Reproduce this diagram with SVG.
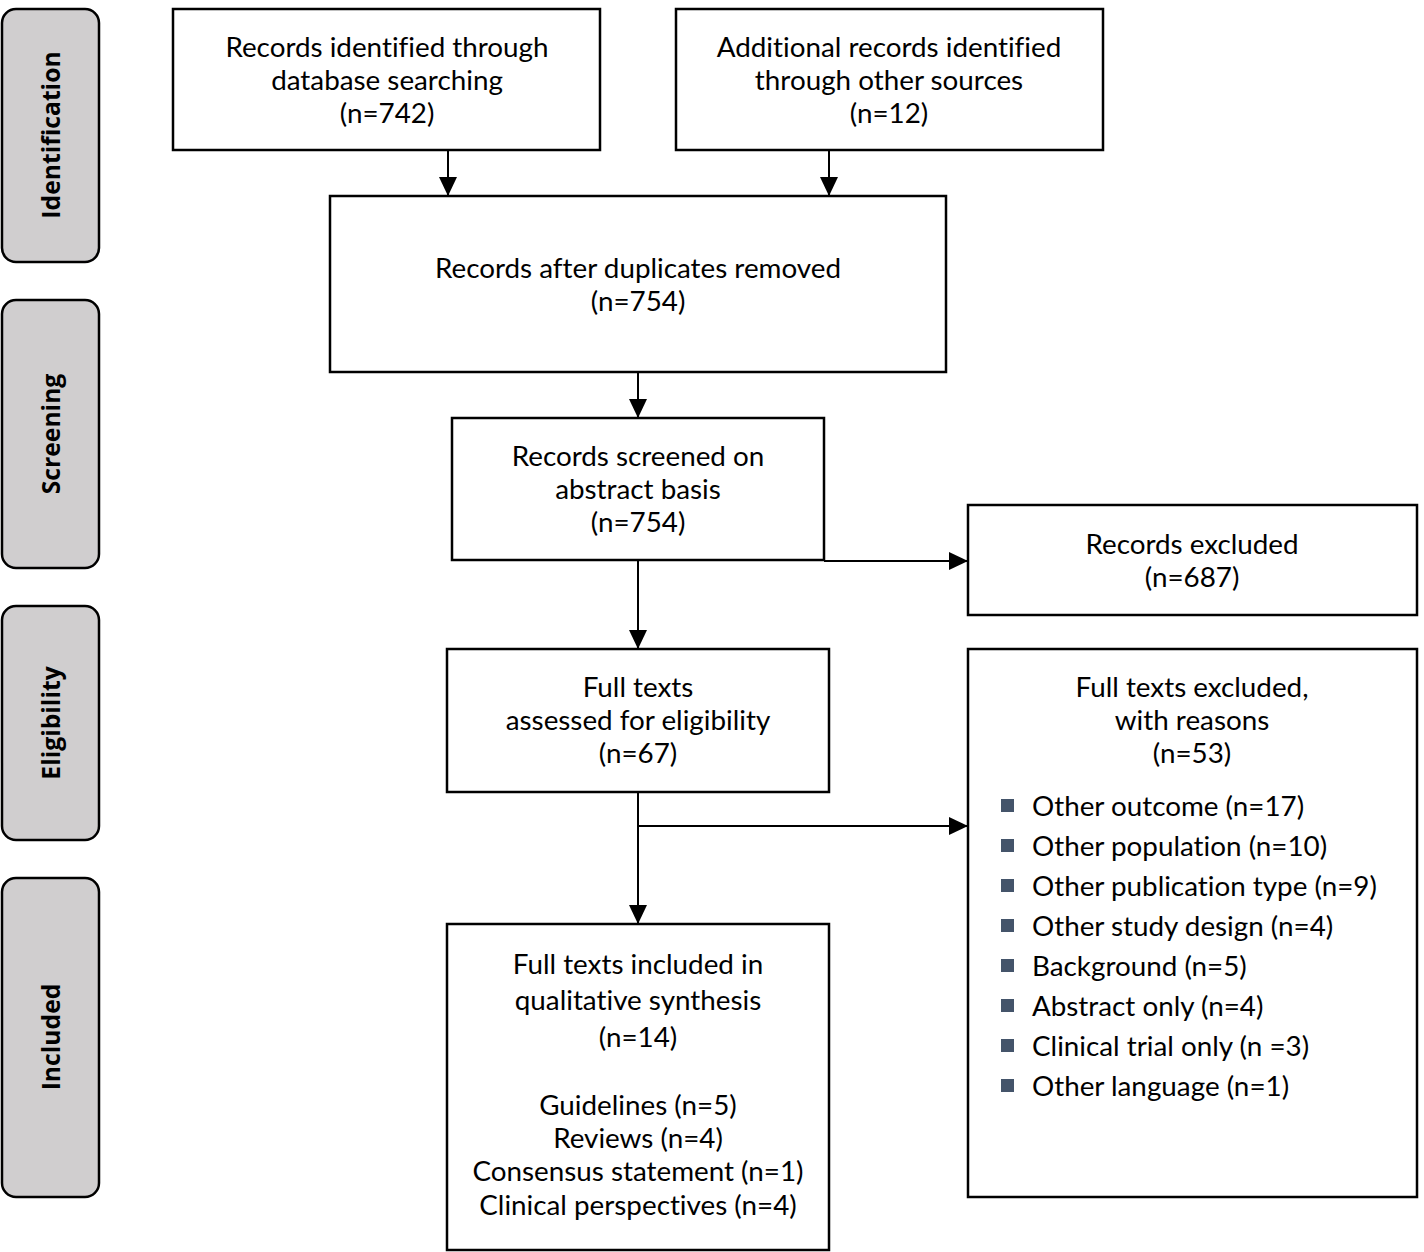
<svg xmlns="http://www.w3.org/2000/svg" width="1424" height="1252" viewBox="0 0 1424 1252">
<style>
.box{fill:#fff;stroke:#000;stroke-width:2.5}
.side{fill:#d0cecf;stroke:#000;stroke-width:2.5}
.t{font-family:Lato,"Liberation Sans",sans-serif;font-size:27.8px;fill:#000;text-anchor:middle;font-variant-ligatures:none}
.l{font-family:Lato,"Liberation Sans",sans-serif;font-size:27.8px;fill:#000;font-variant-ligatures:none}
.s{font-family:"Open Sans","Liberation Sans",sans-serif;font-size:24.7px;font-weight:bold;fill:#000;text-anchor:middle}
.c{stroke:#000;stroke-width:2;fill:none}
.b{fill:#44546a}
</style>
<defs>
<marker id="ah" markerWidth="20" markerHeight="20" refX="19" refY="10" orient="auto" markerUnits="userSpaceOnUse">
<path d="M0,1 L19,10 L0,19 Z" fill="#000"/>
</marker>
</defs>
<g id="phase-identification"><rect class="side" x="2" y="9" width="97" height="253" rx="14"/><text class="s" transform="translate(60,135) rotate(-90)">Identification</text></g>
<g id="phase-screening"><rect class="side" x="2" y="300" width="97" height="268" rx="14"/><text class="s" transform="translate(60,434) rotate(-90)">Screening</text></g>
<g id="phase-eligibility"><rect class="side" x="2" y="606" width="97" height="234" rx="14"/><text class="s" transform="translate(60,723) rotate(-90)">Eligibility</text></g>
<g id="phase-included"><rect class="side" x="2" y="878" width="97" height="319" rx="14"/><text class="s" transform="translate(60,1037) rotate(-90)">Included</text></g>

<g id="connectors">
<line class="c" x1="448" y1="150" x2="448" y2="196" marker-end="url(#ah)"/>
<line class="c" x1="829" y1="150" x2="829" y2="196" marker-end="url(#ah)"/>
<line class="c" x1="638" y1="372" x2="638" y2="418" marker-end="url(#ah)"/>
<line class="c" x1="638" y1="560" x2="638" y2="649" marker-end="url(#ah)"/>
<line class="c" x1="824" y1="561" x2="968" y2="561" marker-end="url(#ah)"/>
<line class="c" x1="638" y1="792" x2="638" y2="924" marker-end="url(#ah)"/>
<line class="c" x1="638" y1="826" x2="968" y2="826" marker-end="url(#ah)"/>
</g>

<g id="n-database"><rect class="box" x="173" y="9" width="427" height="141"/>
<text class="t" x="387" y="57">Records identified through</text>
<text class="t" x="387" y="90">database searching</text>
<text class="t" x="387" y="123">(n=742)</text></g>

<g id="n-other"><rect class="box" x="676" y="9" width="427" height="141"/>
<text class="t" x="889" y="57">Additional records identified</text>
<text class="t" x="889" y="90">through other sources</text>
<text class="t" x="889" y="123">(n=12)</text></g>

<g id="n-dedup"><rect class="box" x="330" y="196" width="616" height="176"/>
<text class="t" x="638" y="278">Records after duplicates removed</text>
<text class="t" x="638" y="311">(n=754)</text></g>

<g id="n-screened"><rect class="box" x="452" y="418" width="372" height="142"/>
<text class="t" x="638" y="466">Records screened on</text>
<text class="t" x="638" y="499">abstract basis</text>
<text class="t" x="638" y="532">(n=754)</text></g>

<g id="n-excluded"><rect class="box" x="968" y="505" width="449" height="110"/>
<text class="t" x="1192" y="554">Records excluded</text>
<text class="t" x="1192" y="587">(n=687)</text></g>

<g id="n-fulltexts"><rect class="box" x="447" y="649" width="382" height="143"/>
<text class="t" x="638" y="697">Full texts</text>
<text class="t" x="638" y="730">assessed for eligibility</text>
<text class="t" x="638" y="763">(n=67)</text></g>

<g id="n-fullexcluded"><rect class="box" x="968" y="649" width="449" height="548"/>
<text class="t" x="1192" y="697">Full texts excluded,</text>
<text class="t" x="1192" y="730">with reasons</text>
<text class="t" x="1192" y="763">(n=53)</text>
<rect class="b" x="1001" y="799" width="13" height="13"/><text class="l" x="1032" y="816">Other outcome (n=17)</text>
<rect class="b" x="1001" y="839" width="13" height="13"/><text class="l" x="1032" y="856">Other population (n=10)</text>
<rect class="b" x="1001" y="879" width="13" height="13"/><text class="l" x="1032" y="896">Other publication type (n=9)</text>
<rect class="b" x="1001" y="919" width="13" height="13"/><text class="l" x="1032" y="936">Other study design (n=4)</text>
<rect class="b" x="1001" y="959" width="13" height="13"/><text class="l" x="1032" y="976">Background (n=5)</text>
<rect class="b" x="1001" y="999" width="13" height="13"/><text class="l" x="1032" y="1016">Abstract only (n=4)</text>
<rect class="b" x="1001" y="1039" width="13" height="13"/><text class="l" x="1032" y="1056">Clinical trial only (n =3)</text>
<rect class="b" x="1001" y="1079" width="13" height="13"/><text class="l" x="1032" y="1096">Other language (n=1)</text></g>

<g id="n-included"><rect class="box" x="447" y="924" width="382" height="326"/>
<text class="t" x="638" y="974">Full texts included in</text>
<text class="t" x="638" y="1010">qualitative synthesis</text>
<text class="t" x="638" y="1047">(n=14)</text>
<text class="t" x="638" y="1115">Guidelines (n=5)</text>
<text class="t" x="638" y="1148">Reviews (n=4)</text>
<text class="t" x="638" y="1181">Consensus statement (n=1)</text>
<text class="t" x="638" y="1215">Clinical perspectives (n=4)</text></g>
</svg>
